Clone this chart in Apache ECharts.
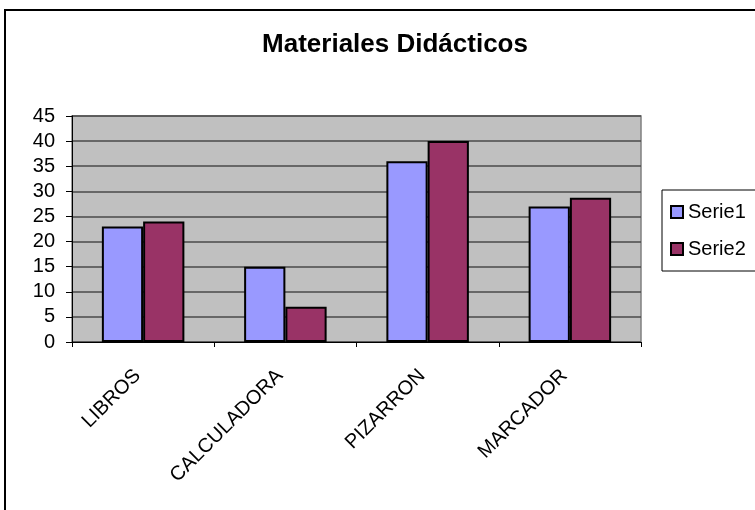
<!DOCTYPE html>
<html>
<head>
<meta charset="utf-8">
<script src="https://cdn.jsdelivr.net/npm/echarts@6/dist/echarts.min.js"></script>
<style>
	html, body { margin: 0; padding: 0; background: #fff; }
	#main { width: 755px; height: 510px; }
</style>
</head>
<body>
<div id="main"></div>
<script>
const categories = ['LIBROS', 'CALCULADORA', 'PIZARRON', 'MARCADOR'];
const serie1 = [23, 15, 36, 27];
const serie2 = [24, 7, 40, 28.7];
const seriesNames = ['Serie1', 'Serie2'];

const myChart = echarts.init(document.getElementById('main'));
const font = '"Liberation Sans", Arial, sans-serif';

const option = {
	animation: false,
	backgroundColor: '#fff',
	textStyle: { fontFamily: font },
	graphic: [
		{
			type: 'rect',
			shape: { x: 5, y: 10, width: 770, height: 520 },
			style: { fill: 'none', stroke: '#000', lineWidth: 2 },
			silent: true
		}
	],
	title: {
		text: 'Materiales Didácticos',
		left: 390,
		textAlign: 'center',
		top: 27,
		textStyle: { fontFamily: font, fontSize: 26, fontWeight: 'bold', color: '#000' }
	},
	legend: {
		data: seriesNames,
		orient: 'vertical',
		icon: 'rect',
		left: 662,
		top: 190,
		padding: [12, 30, 12, 8],
		itemGap: 17,
		itemWidth: 12,
		itemHeight: 12,
		borderColor: '#000',
		borderWidth: 1,
		borderRadius: 0,
		textStyle: { fontFamily: font, fontSize: 20, color: '#000' }
	},
	grid: {
		left: 72,
		right: 114,
		top: 116,
		bottom: 168,
		show: true,
		backgroundColor: '#c0c0c0',
		borderColor: '#808080',
		borderWidth: 1.5
	},
	xAxis: {
		type: 'category',
		data: categories,
		axisLine: { lineStyle: { color: '#000', width: 1 } },
		axisTick: { show: true, length: 5, lineStyle: { color: '#000' } },
		axisLabel: {
			rotate: 45,
			interval: 0,
			margin: 25,
			padding: [0, 8, 0, 0],
			fontFamily: font,
			fontSize: 20,
			color: '#000'
		}
	},
	yAxis: {
		type: 'value',
		min: 0,
		max: 45,
		interval: 5,
		axisLine: { show: true, lineStyle: { color: '#000', width: 1 } },
		axisTick: { show: true, length: 6, lineStyle: { color: '#000' } },
		axisLabel: { fontFamily: font, fontSize: 20, color: '#000', margin: 17 },
		splitLine: { lineStyle: { color: '#4a4a4a', width: 1.5 } }
	},
	series: [
		{
			name: seriesNames[0],
			type: 'bar',
			data: serie1,
			barGap: '0%',
			barCategoryGap: '42%',
			itemStyle: { color: '#9999ff', borderColor: '#000', borderWidth: 2 }
		},
		{
			name: seriesNames[1],
			type: 'bar',
			data: serie2,
			barGap: '0%',
			barCategoryGap: '42%',
			itemStyle: { color: '#993366', borderColor: '#000', borderWidth: 2 }
		}
	]
};
myChart.setOption(option);
</script>
</body>
</html>
